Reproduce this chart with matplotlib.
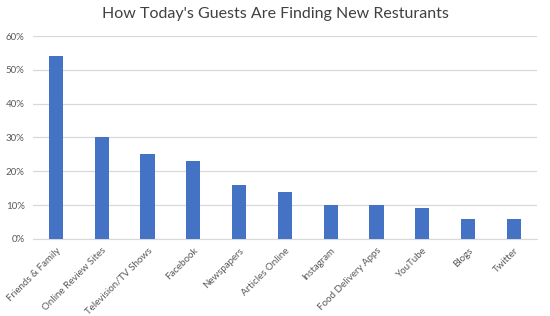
import matplotlib
matplotlib.use('Agg')
import matplotlib.pyplot as plt
from matplotlib.ticker import PercentFormatter

plt.rcParams['font.family'] = 'Lato'

categories = ['Friends & Family', 'Online Review Sites', 'Television/TV Shows',
              'Facebook', 'Newspapers', 'Articles Online', 'Instagram',
              'Food Delivery Apps', 'YouTube', 'Blogs', 'Twitter']
values = [54, 30, 25, 23, 16, 14, 10, 10, 9, 6, 6]

fig = plt.figure(figsize=(5.5, 3.16), dpi=100)
ax = fig.add_axes([0.06, 0.244, 0.916, 0.642])

x = range(len(categories))
ax.bar(x, values, width=0.31, color='#4472C4', zorder=3)

ax.set_xlim(-0.5, len(categories) - 0.5)
ax.set_ylim(0, 60)
ax.set_yticks(range(0, 61, 10))
ax.yaxis.set_major_formatter(PercentFormatter(decimals=0))
ax.grid(axis='y', color='#D9D9D9', linewidth=0.9, zorder=0)

ax.set_xticks(list(x))
ax.set_xticklabels(categories, rotation=45, ha='right', rotation_mode='anchor')
ax.tick_params(axis='both', length=0, labelsize=7, labelcolor='#595959')
ax.tick_params(axis='x', pad=5)
ax.tick_params(axis='y', pad=6)

for s in ['top', 'right', 'left']:
    ax.spines[s].set_visible(False)
ax.spines['bottom'].set_color('#D9D9D9')

fig.text(0.5, 0.955, "How Today's Guests Are Finding New Resturants",
         ha='center', va='center', fontsize=11.5, color='#404040')

fig.savefig('out.png', dpi=100)
